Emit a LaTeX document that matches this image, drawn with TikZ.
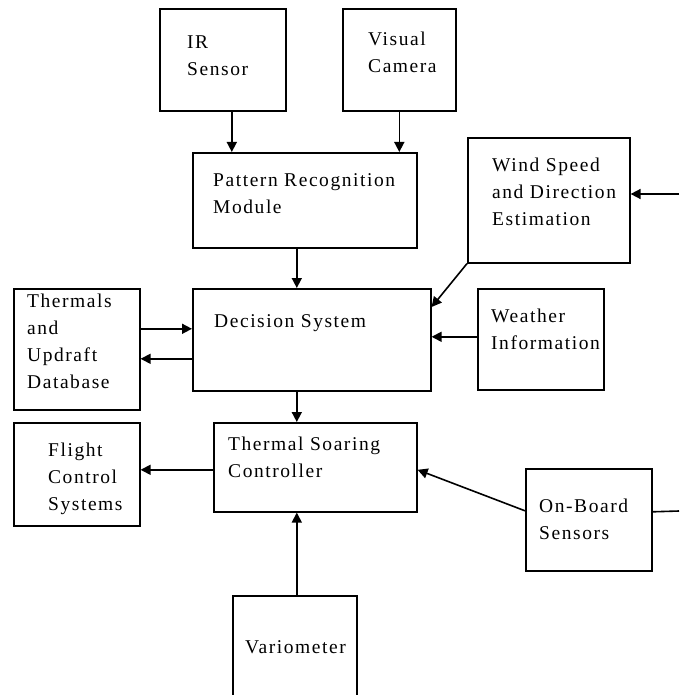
\documentclass[tikz,border=0pt]{standalone}
\usepackage{fontspec}
\setmainfont[LetterSpace=8]{Liberation Serif}
\usetikzlibrary{arrows.meta}
\tikzset{
  box/.style={draw=black, line width=1.6pt, anchor=north west, inner sep=0pt},
  txt/.style={anchor=base west, inner sep=0pt, align=left, font=\fontsize{19.5}{27}\selectfont},
  arr/.style={line width=1.6pt, -{Triangle[length=10pt,width=10pt]}},
  ln/.style={line width=1.6pt}
}
\begin{document}
\begin{tikzpicture}[x=1pt,y=-1pt]
\useasboundingbox (0,0) rectangle (679,695);
\fill[white] (0,0) rectangle (679,695);
\clip (0,0) rectangle (679,695);
% boxes
\node[box, minimum width=126pt, minimum height=102pt] (ir) at (159,8) {};
\node[box, minimum width=113pt, minimum height=102pt] (vis) at (342,8) {};
\node[box, minimum width=224pt, minimum height=95pt] (pat) at (192,152) {};
\node[box, minimum width=162pt, minimum height=125pt] (wind) at (467,137) {};
\node[box, minimum width=238pt, minimum height=102pt] (dec) at (192,288) {};
\node[box, minimum width=126pt, minimum height=101pt] (wea) at (477,288) {};
\node[box, minimum width=126pt, minimum height=121pt] (thr) at (13,288) {};
\node[box, minimum width=126pt, minimum height=103pt] (fcs) at (13,422) {};
\node[box, minimum width=203pt, minimum height=89pt] (tsc) at (213,422) {};
\node[box, minimum width=126pt, minimum height=102pt] (obs) at (525,468) {};
\node[box, minimum width=124pt, minimum height=130pt] (var) at (232,595) {};
% texts (anchor = baseline of the last line)
\node[txt] (irt) at (187,76) {IR\\Sensor};
\node[txt] (vist) at (368,73) {Visual\\Camera};
\node[txt] (patt) at (213,213) {Pattern Recognition\\Module};
\node[txt] (windt) at (492,225) {Wind Speed\\and Direction\\Estimation};
\node[txt] (dect) at (214,327) {Decision System};
\node[txt] (weat) at (491,349) {Weather\\Information};
\node[txt] (thrt) at (27,388) {Thermals\\and\\Updraft\\Database};
\node[txt] (fcst) at (48,510) {Flight\\Control\\Systems};
\node[txt] (tsct) at (228,477) {Thermal Soaring\\Controller};
\node[txt] (obst) at (539,539) {On-Board\\Sensors};
\node[txt] (vart) at (245,653) {Variometer};
% free ends
\coordinate (wr) at (679,194);
\coordinate (or) at (679,511);
% connectors
\draw[arr] ([xshift=9pt]ir.south) -- ([xshift=9pt]ir.south |- pat.north);
\draw[arr] (vis.south) -- (vis.south |- pat.north);
\draw[arr] ([xshift=-8pt]pat.south) -- ([xshift=-8pt]pat.south |- dec.north);
\draw[arr] (wind.south west) -- ([yshift=-19pt]dec.north east);
\draw[arr] ([yshift=2.5pt]wea.west) -- ([yshift=2.5pt]wea.west -| dec.east);
\draw[arr] (wr) -- (wr -| wind.east);
\draw[arr] ([yshift=20.5pt]thr.east) -- ([yshift=20.5pt]thr.east -| dec.west);
\draw[arr] ([yshift=-9.5pt]thr.east -| dec.west) -- ([yshift=-9.5pt]thr.east);
\draw[arr] ([yshift=-2.5pt]tsc.west) -- ([yshift=-2.5pt]tsc.west -| fcs.east);
\draw[arr] ([xshift=-15pt]dec.south) -- ([xshift=-15pt]dec.south |- tsc.north);
\draw[arr] ([xshift=2pt]var.north) -- ([xshift=2pt]var.north |- tsc.south);
\draw[arr] ([yshift=9pt]obs.west) -- ([yshift=-2.5pt]tsc.east);
\draw[ln] ([yshift=8pt]obs.east) -- (or);
\end{tikzpicture}
\end{document}
